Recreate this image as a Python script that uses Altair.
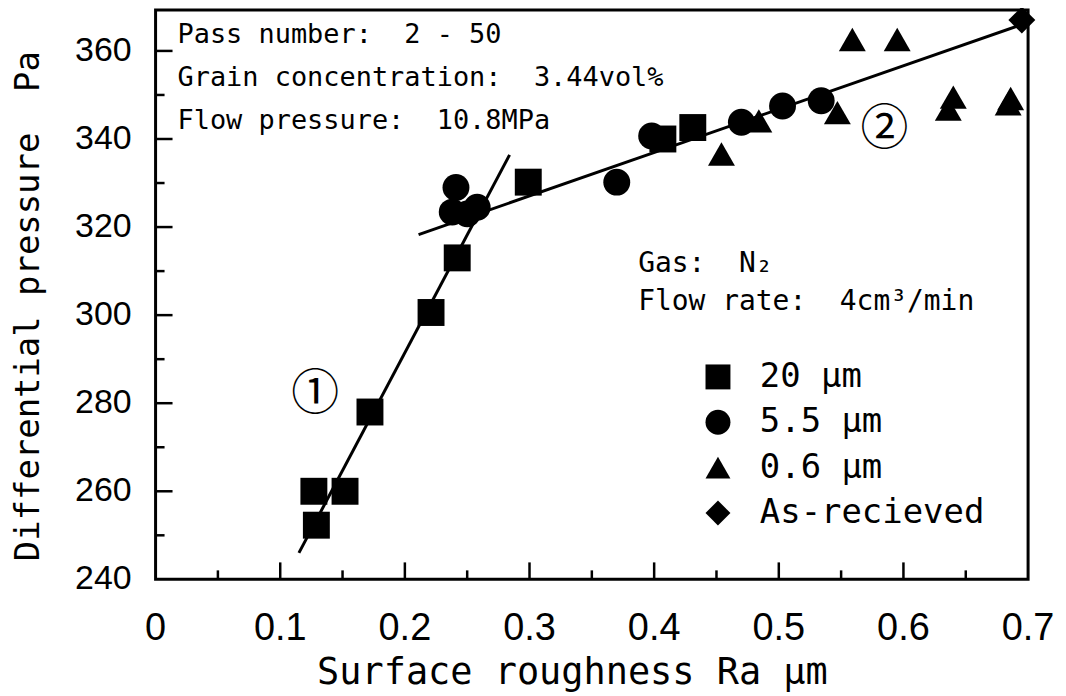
import altair as alt
import pandas as pd

# ---------------- data ----------------
series_names = ["20 μm", "5.5 μm", "0.6 μm", "As-recieved"]
series_shapes = ["square", "circle", "triangle-up", "diamond"]

x_20um = [0.127, 0.152, 0.129, 0.172, 0.221, 0.242, 0.299, 0.407, 0.431]
y_20um = [260.0, 260.0, 252.3, 278.0, 300.6, 313.0, 330.2, 340.0, 342.6]

x_5um = [0.241, 0.238, 0.250, 0.258, 0.370, 0.398, 0.470, 0.503, 0.534]
y_5um = [329.0, 323.4, 323.0, 324.5, 330.2, 340.7, 343.8, 347.5, 348.7]

x_06um = [0.454, 0.484, 0.547, 0.559, 0.595, 0.636, 0.640, 0.684, 0.686]
y_06um = [336.6, 344.1, 346.0, 362.6, 362.6, 346.8, 349.5, 348.0, 349.2]

x_asrec = [0.695]
y_asrec = [367.0]

# fitted lines (1) and (2): end points
line_id = ["1", "1", "2", "2"]
line_x = [0.115, 0.284, 0.211, 0.695]
line_y = [246.0, 336.4, 318.3, 366.0]

x_ticks = [0, 0.1, 0.2, 0.3, 0.4, 0.5, 0.6, 0.7]
x_tick_labels = ["0", "0.1", "0.2", "0.3", "0.4", "0.5", "0.6", "0.7"]
y_ticks = [240, 260, 280, 300, 320, 340, 360]
y_tick_labels = ["240", "260", "280", "300", "320", "340", "360"]
x_major_in = [0.1, 0.2, 0.3, 0.4, 0.5, 0.6]
x_minor_in = [0.05, 0.15, 0.25, 0.35, 0.45, 0.55, 0.65]
y_major_in = [260, 280, 300, 320, 340, 360]
y_minor_in = [250, 270, 290, 310, 330, 350]

NB = "\u00a0"
x_title = "Surface roughness Ra μm"
y_title = "Differential pressure" + NB + " Pa"
info_lines = ["Pass number:" + NB + " 2" + NB + "-" + NB + "50",
              "Grain concentration:" + NB + " 3.44vol%",
              "Flow pressure:" + NB + " 10.8MPa"]
gas_lines = ["Gas:" + NB + " N₂", "Flow rate:" + NB + " 4cm³/min"]
region_labels = ["①", "②"]

# ---------------- layout ----------------
W, H = 875, 571
WIDE = "DejaVu Sans Mono"
xs = alt.Scale(domain=[0, 0.7], nice=False, zero=False)
ys = alt.Scale(domain=[240, 369.3], nice=False, zero=False)

rows = []
for name, xv, yv in [(series_names[0], x_20um, y_20um), (series_names[1], x_5um, y_5um),
                     (series_names[2], x_06um, y_06um), (series_names[3], x_asrec, y_asrec)]:
    for a, b in zip(xv, yv):
        rows.append({"series": name, "x": a, "y": b})
pts = pd.DataFrame(rows)

points = alt.Chart(pts).mark_point(filled=True, opacity=1, size=729, color="black").encode(
    x=alt.X("x:Q", scale=xs, axis=None),
    y=alt.Y("y:Q", scale=ys, axis=None),
    shape=alt.Shape("series:N", scale=alt.Scale(domain=series_names, range=series_shapes),
                    legend=alt.Legend(title=None, orient="none", legendX=547, legendY=351,
                                      symbolSize=625, symbolFillColor="black", symbolStrokeColor="black",
                                      labelFont=WIDE, labelFontSize=34, labelLimit=500,
                                      labelColor="black", labelOffset=25, rowPadding=11.5, padding=0)),
)

lines = alt.Chart(pd.DataFrame({"id": line_id, "x": line_x, "y": line_y})).mark_line(
    color="black", strokeWidth=3).encode(
    x=alt.X("x:Q", scale=xs, axis=None), y=alt.Y("y:Q", scale=ys, axis=None), detail="id:N")

def tick_layer(vals, axis, length):
    df = pd.DataFrame({"v": vals})
    if axis == "x":
        return alt.Chart(df).mark_rule(color="black", strokeWidth=2.5).encode(
            x=alt.X("v:Q", scale=xs, axis=None), y=alt.value(H), y2=alt.value(H - length))
    return alt.Chart(df).mark_rule(color="black", strokeWidth=2.5).encode(
        y=alt.Y("v:Q", scale=ys, axis=None), x=alt.value(0), x2=alt.value(length))

ticks = [tick_layer(x_major_in, "x", 17), tick_layer(x_minor_in, "x", 9),
         tick_layer(y_major_in, "y", 17), tick_layer(y_minor_in, "y", 9)]

x_labels = alt.Chart(pd.DataFrame({"v": x_ticks, "t": x_tick_labels})).mark_text(
    align="center", baseline="top", font="Liberation Sans Narrow, Liberation Sans",
    fontSize=38, color="black").encode(
    x=alt.X("v:Q", scale=xs, axis=None), y=alt.value(H + 31), text="t:N")

y_labels = alt.Chart(pd.DataFrame({"v": y_ticks, "t": y_tick_labels})).mark_text(
    align="right", baseline="middle", font="Liberation Sans", fontSize=34, color="black").encode(
    y=alt.Y("v:Q", scale=ys, axis=None), x=alt.value(-24), text="t:N")

def text_layer(t, px, py, font, size, align="left", baseline="alphabetic", angle=0):
    return alt.Chart(pd.DataFrame({"t": [t]})).mark_text(
        align=align, baseline=baseline, font=font, fontSize=size, color="black", angle=angle).encode(
        x=alt.value(px), y=alt.value(py), text="t:N")

texts = [text_layer(x_title, 418, H + 94, WIDE, 37, align="center", baseline="middle"),
         text_layer(y_title, -127, 297, WIDE, 34, align="center", baseline="middle", angle=270)]
for i, t in enumerate(info_lines):
    texts.append(text_layer(t, 22, 33 + 43 * i, WIDE, 27))
for i, t in enumerate(gas_lines):
    texts.append(text_layer(t, 484, 263 + 38 * i, WIDE, 28))
for t, px, py in zip(region_labels, [160, 731], [386, 120]):
    texts.append(text_layer(t, px, py, "Noto Sans CJK JP", 48, align="center", baseline="middle"))

chart = alt.layer(points, lines, *ticks, x_labels, y_labels, *texts).properties(
    width=W, height=H,
    autosize=alt.AutoSizeParams(type="none"),
    padding={"left": 148, "top": 1, "right": 30, "bottom": 113},
    background="white",
).configure_view(stroke="black", strokeWidth=3)

chart.save("out.html", embed_options={"renderer": "svg", "actions": False})
